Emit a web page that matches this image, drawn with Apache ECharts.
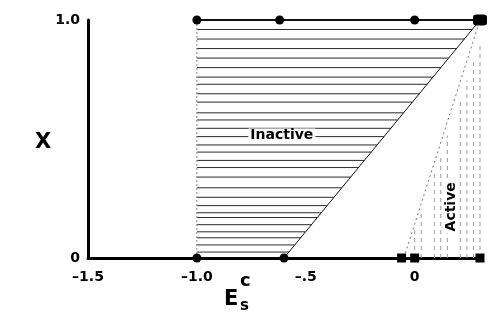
<!DOCTYPE html>
<html>
<head>
<meta charset="utf-8">
<script src="https://cdn.jsdelivr.net/npm/echarts@6/dist/echarts.min.js"></script>
<style>
  html, body { margin: 0; padding: 0; background: #fff; }
  #chart { width: 488px; height: 330px; }
</style>
</head>
<body>
<div id="chart"></div>
<script>
// tick labels
const xTicks = {'-1.5': '\u20131.5', '-1': '\u20131.0', '-0.5': '\u2013.5', '0': '0'};
const yTicks = {'0': '0', '1': '1.0'};

// region outlines
const inactiveDiag = [[-0.6, 0], [0.3, 1]];
const inactiveLeft = -1.0;
const activeDiag = [[-0.05, 0], [0.3, 1]];

// dots and squares on the lines
const topCircles = [[-1.0, 1], [-0.62, 1], [0.0, 1]];
const cornerPoint = [[0.3, 1]];
const bottomCircles = [[-1.0, 0], [-0.6, 0]];
const bottomSquares = [[-0.06, 0], [0.0, 0], [0.3, 0]];

// hatch levels
const hatchLevels = [0.96, 0.92, 0.88, 0.84, 0.80, 0.76, 0.73, 0.69, 0.655, 0.61,
  0.58, 0.545, 0.51, 0.475, 0.445, 0.41, 0.38, 0.34, 0.295, 0.255, 0.22, 0.19,
  0.17, 0.14, 0.11, 0.085, 0.055, 0.025];
// vertical strokes inside the active wedge
const activeStrokes = [0.0, 0.03, 0.09, 0.12, 0.15, 0.21, 0.24, 0.27, 0.3];

const FONT = 'DejaVu Sans';

function diagX(line, y) {
  const [a, b] = line;
  return a[0] + (b[0] - a[0]) * (y - a[1]) / (b[1] - a[1]);
}
function diagY(line, x) {
  const [a, b] = line;
  return a[1] + (b[1] - a[1]) * (x - a[0]) / (b[0] - a[0]);
}

const chart = echarts.init(document.getElementById('chart'));
chart.setOption({
  animation: false,
  backgroundColor: '#fff',
  grid: {left: 88, right: 8, top: 20, bottom: 72},
  xAxis: {
    type: 'value', min: -1.5, max: 0.3, interval: 0.5,
    axisLine: {onZero: false, lineStyle: {color: '#000', width: 3}},
    axisTick: {show: false},
    splitLine: {show: false},
    axisLabel: {
      showMaxLabel: false, margin: 12,
      color: '#000', fontFamily: FONT, fontWeight: 'bold', fontSize: 14,
      formatter: v => xTicks[String(v)] || ''
    }
  },
  yAxis: {
    type: 'value', min: 0, max: 1, interval: 1,
    axisLine: {show: true, onZero: false, lineStyle: {color: '#000', width: 3}},
    axisTick: {show: false},
    splitLine: {show: false},
    axisLabel: {
      margin: 8,
      color: '#000', fontFamily: FONT, fontWeight: 'bold', fontSize: 14,
      formatter: v => yTicks[String(v)] || ''
    }
  },
  graphic: [
    {type: 'text', left: 35, top: 132,
     style: {text: 'X', fontFamily: FONT, fontWeight: 'bold', fontSize: 21, fill: '#000'}},
    {type: 'text', left: 224, top: 289,
     style: {text: 'E', fontFamily: FONT, fontWeight: 'bold', fontSize: 21, fill: '#000'}},
    {type: 'text', left: 240, top: 299,
     style: {text: 's', fontFamily: FONT, fontWeight: 'bold', fontSize: 15, fill: '#000'}},
    {type: 'text', left: 240, top: 272,
     style: {text: 'c', fontFamily: FONT, fontWeight: 'bold', fontSize: 18, fill: '#000'}}
  ],
  series: [
    {
      // horizontal hatching of the inactive region
      type: 'custom',
      data: hatchLevels.map(y => [inactiveLeft, y]),
      renderItem: (params, api) => {
        const y = api.value(1);
        const p1 = api.coord([inactiveLeft, y]);
        const p2 = api.coord([diagX(inactiveDiag, y), y]);
        return {type: 'line', shape: {x1: p1[0], y1: p1[1], x2: p2[0], y2: p2[1]},
          style: {stroke: '#2a2a2a', lineWidth: 1}};
      },
      z: 1
    },
    {
      // faint vertical strokes in the active wedge
      type: 'custom',
      data: activeStrokes.map(x => [x, 0]),
      renderItem: (params, api) => {
        const x = api.value(0);
        const p1 = api.coord([x, 0]);
        const p2 = api.coord([x, Math.min(1, diagY(activeDiag, x)) * 0.9]);
        return {type: 'line', shape: {x1: p1[0], y1: p1[1], x2: p2[0], y2: p2[1]},
          style: {stroke: '#9a9a9a', lineWidth: 1, lineDash: [4, 4]}};
      },
      z: 1
    },
    {
      type: 'line', data: [[inactiveLeft, 0], [inactiveLeft, 1]], symbol: 'none',
      lineStyle: {color: '#888', width: 1, type: [2, 2]}
    },
    {
      type: 'line', data: inactiveDiag, symbol: 'none',
      lineStyle: {color: '#111', width: 1}
    },
    {
      type: 'line', data: activeDiag, symbol: 'none',
      lineStyle: {color: '#777', width: 1, type: [2, 3]}
    },
    {
      type: 'line', data: topCircles.concat(cornerPoint), symbol: 'none',
      lineStyle: {color: '#111', width: 2}
    },
    {type: 'scatter', data: topCircles.concat(bottomCircles), symbol: 'circle', symbolSize: 9,
     itemStyle: {color: '#000', opacity: 1}, z: 5},
    {type: 'scatter', data: bottomSquares, symbol: 'rect', symbolSize: [9, 9],
     itemStyle: {color: '#000', opacity: 1}, z: 5},
    {type: 'scatter', data: cornerPoint, symbol: 'roundRect', symbolSize: [14, 11],
     itemStyle: {color: '#000', opacity: 1}, z: 5},
    {
      type: 'scatter', symbolSize: 0, z: 6,
      itemStyle: {opacity: 1},
      data: [{value: [-0.61, 0.515], label: {formatter: 'Inactive'}},
             {value: [0.17, 0.215], label: {formatter: 'Active', rotate: 90}}],
      label: {show: true, position: 'inside', color: '#000', fontFamily: FONT,
        fontWeight: 'bold', fontSize: 14, backgroundColor: '#fff', padding: [0, 2]}
    }
  ]
});
</script>
</body>
</html>
